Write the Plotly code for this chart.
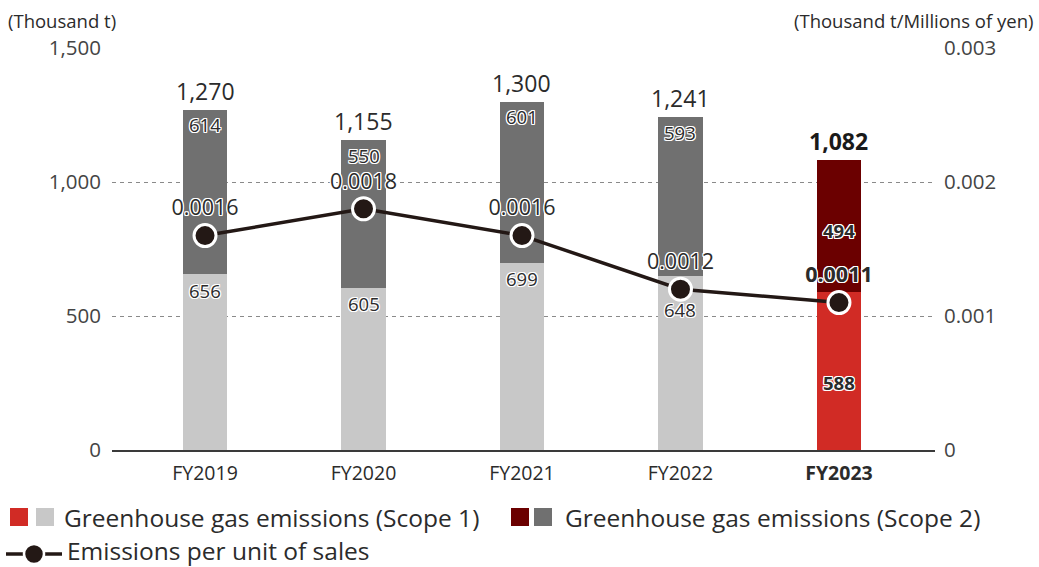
import plotly.graph_objects as go

# ---------------- data ----------------
years = ["FY2019", "FY2020", "FY2021", "FY2022", "FY2023"]
scope1 = [656, 605, 699, 648, 588]
scope2 = [614, 550, 601, 593, 494]
intensity = [0.0016, 0.0018, 0.0016, 0.0012, 0.0011]
intensity_labels = ["0.0016", "0.0018", "0.0016", "0.0012", "0.0011"]
left_tickvals = [0, 500, 1000, 1500]
left_ticktext = ["0", "500", "1,000", "1,500"]
right_tickvals = [0, 0.001, 0.002, 0.003]
right_ticktext = ["0", "0.001", "0.002", "0.003"]
legend_scope1 = "Greenhouse gas emissions (Scope 1)"
legend_scope2 = "Greenhouse gas emissions (Scope 2)"
legend_line = "Emissions per unit of sales"
left_title = "(Thousand t)"
right_title = "(Thousand t/Millions of yen)"

# ---------------- style ----------------
FONT = "Open Sans"
TXT = "#2b2b2b"
LIGHT = "#c8c8c8"
DARK = "#707070"
RED = "#d12b25"
DRED = "#6b0000"
LINEC = "#231815"
HALO = "1px 1px 0 #fff, -1px -1px 0 #fff, 1px -1px 0 #fff, -1px 1px 0 #fff, 0 1px 0 #fff, 0 -1px 0 #fff, 1px 0 0 #fff, -1px 0 0 #fff"
BARW = 0.28
W, H = 1039, 567
ML, MR, MT, MB = 112, 104, 48, 117
hi = len(years) - 1  # highlighted year

def px(x):
    return (x - ML) / (W - ML - MR)

def py(y):
    return (H - MB - y) / (H - MT - MB)

fig = go.Figure()
fig.add_trace(go.Bar(x=years[:hi], y=scope1[:hi], marker=dict(color=LIGHT, line=dict(width=0)),
                     width=BARW, showlegend=False, hoverinfo="skip"))
fig.add_trace(go.Bar(x=years[:hi], y=scope2[:hi], marker=dict(color=DARK, line=dict(width=0)),
                     width=BARW, showlegend=False, hoverinfo="skip"))
fig.add_trace(go.Bar(x=years[hi:], y=scope1[hi:], marker=dict(color=RED, line=dict(width=0)),
                     width=BARW, showlegend=False, hoverinfo="skip"))
fig.add_trace(go.Bar(x=years[hi:], y=scope2[hi:], marker=dict(color=DRED, line=dict(width=0)),
                     width=BARW, showlegend=False, hoverinfo="skip"))

line_text = [("<b>%s</b>" % t if i == hi else t) for i, t in enumerate(intensity_labels)]
fig.add_trace(go.Scatter(x=years, y=intensity, yaxis="y2", mode="lines+markers+text",
                         line=dict(color=LINEC, width=3.5),
                         marker=dict(size=22, color=LINEC, line=dict(color="white", width=3)),
                         text=line_text, textposition="top center",
                         textfont=dict(family=FONT, size=21.5, color=TXT, shadow=HALO),
                         showlegend=False, hoverinfo="skip"))

annotations = []
# totals
for i, y in enumerate(years):
    tot = scope1[i] + scope2[i]
    t = f"{tot:,}"
    annotations.append(dict(x=y, y=tot, xref="x", yref="y", text=(f"<b>{t}</b>" if i == hi else t),
                            showarrow=False, yanchor="bottom", yshift=1,
                            font=dict(family=FONT, size=23, color=("#1a1a1a" if i == hi else TXT))))
# segment labels
s1_shift = [-16, -16, -16, -33]
for i, y in enumerate(years):
    if i == hi:
        annotations.append(dict(x=y, y=scope1[i] + scope2[i] / 2, xref="x", yref="y",
                                text=f"<b>{scope2[i]}</b>", showarrow=False, yshift=-4,
                                font=dict(family=FONT, size=18.5, color=TXT, shadow=HALO)))
        annotations.append(dict(x=y, y=scope1[i] / 2, xref="x", yref="y",
                                text=f"<b>{scope1[i]}</b>", showarrow=False, yshift=-11,
                                font=dict(family=FONT, size=18.5, color=TXT, shadow=HALO)))
    else:
        annotations.append(dict(x=y, y=scope1[i] + scope2[i], xref="x", yref="y",
                                text=f"{scope2[i]}", showarrow=False, yshift=-15,
                                font=dict(family=FONT, size=18.5, color=TXT, shadow=HALO)))
        annotations.append(dict(x=y, y=scope1[i], xref="x", yref="y",
                                text=f"{scope1[i]}", showarrow=False, yshift=s1_shift[i],
                                font=dict(family=FONT, size=18.5, color=TXT, shadow=HALO)))

# axis titles
annotations.append(dict(x=px(6), y=py(21), xref="paper", yref="paper", text=left_title,
                        showarrow=False, xanchor="left", yanchor="middle",
                        font=dict(family=FONT, size=18.5, color=TXT)))
annotations.append(dict(x=px(1035), y=py(21), xref="paper", yref="paper", text=right_title,
                        showarrow=False, xanchor="right", yanchor="middle",
                        font=dict(family=FONT, size=18.5, color=TXT)))

# manual legend
shapes = []
def sq(x0, color, yc):
    shapes.append(dict(type="rect", xref="paper", yref="paper", x0=px(x0), x1=px(x0 + 18),
                       y0=py(yc - 9), y1=py(yc + 9), fillcolor=color, line=dict(width=0)))
ry1, ry2, ry2_text = 517, 554, 550
sq(10, RED, ry1); sq(36, LIGHT, ry1)
sq(511, DRED, ry1); sq(534, DARK, ry1)
shapes.append(dict(type="line", xref="paper", yref="paper", x0=px(6), x1=px(62), y0=py(ry2), y1=py(ry2),
                   line=dict(color=LINEC, width=3.5)))
shapes.append(dict(type="circle", xref="paper", yref="paper", x0=px(24), x1=px(44), y0=py(ry2 - 10), y1=py(ry2 + 10),
                   fillcolor=LINEC, line=dict(color="white", width=2.5)))
for xt, txt, yy in [(62, legend_scope1, ry1), (563, legend_scope2, ry1), (65, legend_line, ry2_text)]:
    annotations.append(dict(x=px(xt), y=py(yy), xref="paper", yref="paper", text=txt, showarrow=False,
                            xanchor="left", yanchor="middle", font=dict(family=FONT, size=24.5, color=TXT)))

x_ticktext = [("<b>%s</b>" % y if i == hi else y) for i, y in enumerate(years)]

fig.update_layout(
    width=W, height=H, autosize=False,
    margin=dict(l=ML, r=MR, t=MT, b=MB),
    paper_bgcolor="white", plot_bgcolor="white",
    barmode="stack", showlegend=False,
    font=dict(family=FONT, color=TXT),
    xaxis=dict(type="category", range=[-0.587, 4.606], tickvals=years, ticktext=x_ticktext,
               showline=True, linecolor="#3a3a3a", linewidth=1.5, ticks="", showgrid=False,
               tickfont=dict(family=FONT, size=19.5, color=TXT), ticklabelstandoff=5),
    yaxis=dict(range=[0, 1500], tickvals=left_tickvals, ticktext=left_ticktext, showgrid=True,
               gridcolor="#8a8a8a", griddash="4px,4px", gridwidth=1, zeroline=False, showline=False,
               ticks="", tickfont=dict(family=FONT, size=20.5, color="#444"), ticklabelstandoff=10),
    yaxis2=dict(range=[0, 0.003], overlaying="y", side="right", tickvals=right_tickvals,
                ticktext=right_ticktext, showgrid=False, zeroline=False, showline=False, ticks="",
                tickfont=dict(family=FONT, size=20.5, color="#444"), ticklabelstandoff=8),
    annotations=annotations, shapes=shapes,
)

fig.write_html("out.html", config={"displayModeBar": False},
               post_script="document.body.style.margin='0';document.body.style.overflow='hidden';")
